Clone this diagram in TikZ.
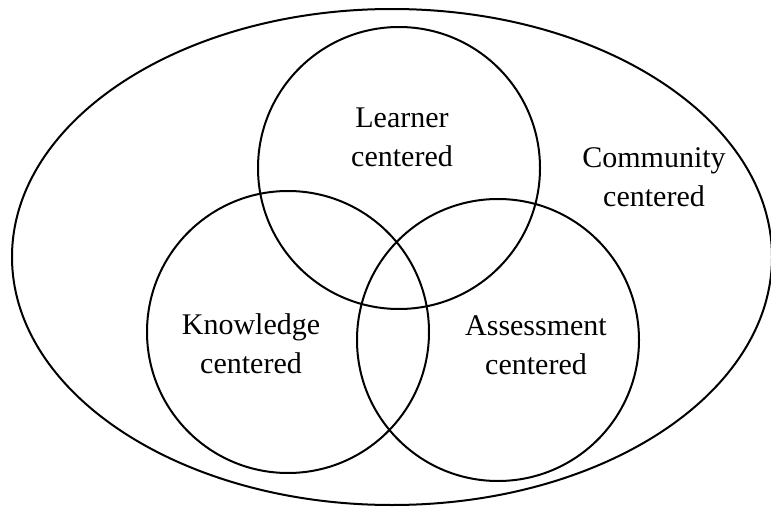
\documentclass[tikz,border=0pt]{standalone}
\usepackage{fontspec}
\setmainfont{Liberation Serif}
\usetikzlibrary{shapes.geometric}

\begin{document}
\begin{tikzpicture}[x=0.5pt,y=-0.5pt,every path/.style={line width=1pt},
  lbl/.style={align=center,font=\fontsize{15}{19.5}\selectfont,inner sep=0pt},
  ring/.style={draw,circle,minimum size=141pt,inner sep=0pt}]

\useasboundingbox (0,0) rectangle (771,508);

\node (community) [draw,ellipse,minimum width=380pt,minimum height=248pt,inner sep=0pt] at (392,257) {};

\node (learner) [ring] at (399,168) {};
\node (knowledge) [ring] at (288,332) {};
\node (assessment) [ring] at (498,340) {};

\node (learnertxt) [lbl] at (402,137) {Learner\\centered};
\node (knowledgetxt) [lbl] at (251,344) {Knowledge\\centered};
\node (assessmenttxt) [lbl] at (536,345) {Assessment\\centered};
\node (communitytxt) [lbl] at (654,177) {Community\\centered};

\end{tikzpicture}
\end{document}
